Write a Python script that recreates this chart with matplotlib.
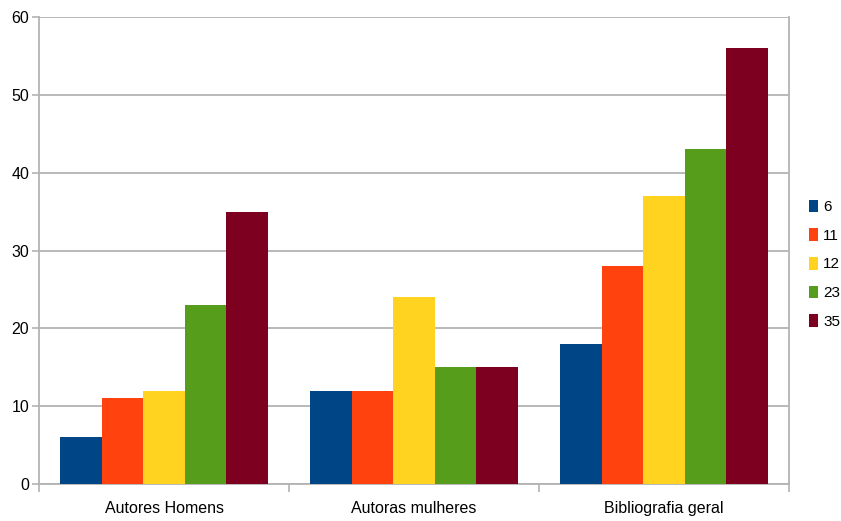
import numpy as np
import matplotlib.pyplot as plt

# Data
categories = ["Autores Homens", "Autoras mulheres", "Bibliografia geral"]
series_names = ["6", "11", "12", "23", "35"]
values_6 = [6, 12, 18]
values_11 = [11, 12, 28]
values_12 = [12, 24, 37]
values_23 = [23, 15, 43]
values_35 = [35, 15, 56]
yticks = [0, 10, 20, 30, 40, 50, 60]

colors = ["#004586", "#ff420e", "#ffd320", "#579d1c", "#7e0021"]
all_values = [values_6, values_11, values_12, values_23, values_35]

plt.rcParams["font.family"] = ["Liberation Sans Narrow", "Liberation Sans", "DejaVu Sans"]

fig = plt.figure(figsize=(8.41, 5.21), dpi=100)
ax = fig.add_axes([0.0464, 0.071, 0.8918, 0.896])

x = np.arange(len(categories))
width = 0.166
offsets = (np.arange(len(series_names)) - 2) * width
for vals, name, col, off in zip(all_values, series_names, colors, offsets):
    ax.bar(x + off, vals, width, color=col, label=name, zorder=3)

ax.set_xlim(-0.5, 2.5)
ax.set_ylim(0, 60)
ax.set_yticks(yticks)
ax.set_yticklabels([str(t) for t in yticks], fontsize=11.5)

# category labels centered, ticks at boundaries
ax.set_xticks([-0.5, 0.5, 1.5, 2.5])
ax.set_xticklabels([])
ax.set_xticks(x, minor=True)
ax.set_xticklabels(categories, minor=True, fontsize=11.5)
ax.tick_params(axis="x", which="minor", length=0, pad=12)
ax.tick_params(axis="x", which="major", length=6, color="#b3b3b3", width=1.2)
ax.tick_params(axis="y", length=5, color="#b3b3b3", width=1.2, pad=2)

ax.grid(axis="y", color="#b3b3b3", linewidth=1.3, zorder=0)
ax.set_axisbelow(True)
for side in ["left", "right", "bottom"]:
    ax.spines[side].set_color("#b3b3b3")
    ax.spines[side].set_linewidth(1.3)
ax.spines["top"].set_visible(False)

fig.legend(loc="center left", bbox_to_anchor=(0.955, 0.493), frameon=False,
           fontsize=11, handlelength=0.6, handleheight=0.9, handletextpad=0.3,
           labelspacing=0.92, borderaxespad=0)

fig.savefig("out.png", dpi=100)
